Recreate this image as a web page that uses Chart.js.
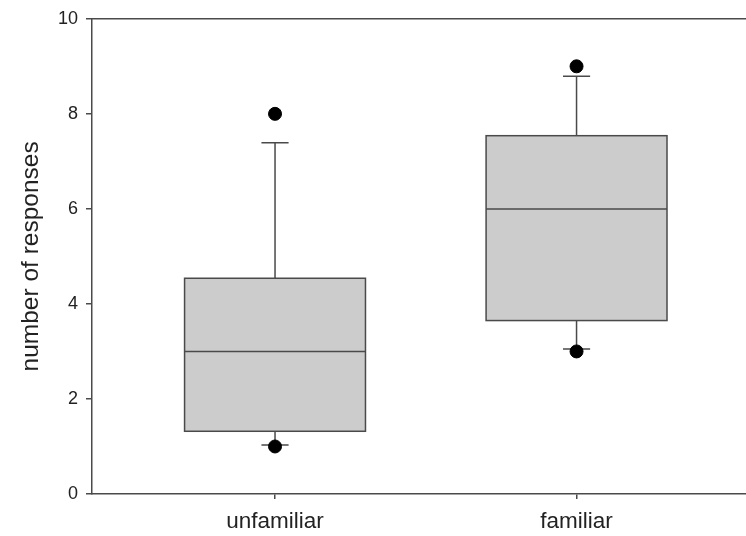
<!DOCTYPE html>
<html>
<head>
<meta charset="utf-8">
<script src="https://cdn.jsdelivr.net/npm/chart.js@4.4.1/dist/chart.umd.min.js"></script>
<style>
  html, body { margin: 0; padding: 0; background: #fff; }
  #wrap { width: 746px; height: 536px; }
</style>
</head>
<body>
<div id="wrap"><canvas id="chart"></canvas></div>
<script>
// box plot summary
const categories = ['unfamiliar', 'familiar'];
const positions = [1, 2];
const lowerWhisker = [1.03, 3.05];
const q1 = [1.32, 3.65];
const median = [3.0, 6.0];
const q3 = [4.54, 7.54];
const upperWhisker = [7.39, 8.79];
const outliers = [[1, 8], [3, 9]];
const yTicks = [0, 2, 4, 6, 8, 10];

const BOX_HALF = 0.3, CAP_HALF = 0.045;
const LINE = '#4a4a4a';

const outlierPoints = [];
outliers.forEach((vals, i) => vals.forEach(v => outlierPoints.push({x: positions[i], y: v})));

const boxPlot = {
  id: 'boxPlot',
  beforeDatasetsDraw(chart) {
    const {ctx, scales: {x, y}} = chart;
    ctx.save();
    ctx.lineWidth = 1.5;
    ctx.strokeStyle = LINE;
    positions.forEach((p, i) => {
      const cx = x.getPixelForValue(p);
      const l = x.getPixelForValue(p - BOX_HALF), r = x.getPixelForValue(p + BOX_HALF);
      const cl = x.getPixelForValue(p - CAP_HALF), cr = x.getPixelForValue(p + CAP_HALF);
      const yq1 = y.getPixelForValue(q1[i]), yq3 = y.getPixelForValue(q3[i]);
      const yLo = y.getPixelForValue(lowerWhisker[i]), yHi = y.getPixelForValue(upperWhisker[i]);
      const yMed = y.getPixelForValue(median[i]);
      ctx.beginPath();
      ctx.moveTo(cx, yq3); ctx.lineTo(cx, yHi);
      ctx.moveTo(cl, yHi); ctx.lineTo(cr, yHi);
      ctx.moveTo(cx, yq1); ctx.lineTo(cx, yLo);
      ctx.moveTo(cl, yLo); ctx.lineTo(cr, yLo);
      ctx.stroke();
      ctx.fillStyle = '#cccccc';
      ctx.fillRect(l, yq3, r - l, yq1 - yq3);
      ctx.strokeRect(l, yq3, r - l, yq1 - yq3);
      ctx.beginPath();
      ctx.moveTo(l, yMed); ctx.lineTo(r, yMed);
      ctx.stroke();
    });
    // top frame line
    const a = chart.chartArea;
    ctx.beginPath();
    ctx.moveTo(a.left, a.top); ctx.lineTo(a.right, a.top);
    ctx.stroke();
    ctx.restore();
  }
};

new Chart(document.getElementById('chart'), {
  type: 'scatter',
  data: {
    datasets: [{
      data: outlierPoints,
      pointRadius: 6.5,
      pointHoverRadius: 6.5,
      backgroundColor: '#000',
      borderColor: '#000'
    }]
  },
  options: {
    responsive: true,
    maintainAspectRatio: false,
    animation: false,
    layout: { autoPadding: false, padding: { top: 16, right: 0, left: 0, bottom: 0 } },
    plugins: { legend: { display: false }, tooltip: { enabled: false } },
    scales: {
      x: {
        type: 'linear',
        min: 0.393, max: 2.562,
        afterBuildTicks: s => { s.ticks = positions.map(v => ({value: v})); },
        afterFit: s => { s.height = 42; s.paddingLeft = 0; s.paddingRight = 0; },
        grid: { drawOnChartArea: false, drawTicks: true, tickLength: 5, tickColor: LINE, lineWidth: 1.5 },
        border: { color: LINE, width: 1.5 },
        ticks: {
          padding: 9,
          color: '#222',
          font: { family: 'Liberation Sans', size: 22.5 },
          callback: v => categories[positions.indexOf(v)] ?? ''
        }
      },
      y: {
        min: 0, max: 10,
        afterBuildTicks: s => { s.ticks = yTicks.map(v => ({value: v})); },
        afterFit: s => { s.width = 92; },
        grid: { drawOnChartArea: false, drawTicks: true, tickLength: 6, tickColor: LINE, lineWidth: 1.5 },
        border: { color: LINE, width: 1.5 },
        ticks: { padding: 8, color: '#222', font: { family: 'Liberation Sans', size: 18 } },
        title: {
          display: true,
          text: 'number of responses',
          color: '#222',
          font: { family: 'Liberation Sans', size: 24.5 },
          padding: { top: 17, bottom: 0 }
        }
      }
    }
  },
  plugins: [boxPlot]
});
</script>
</body>
</html>
